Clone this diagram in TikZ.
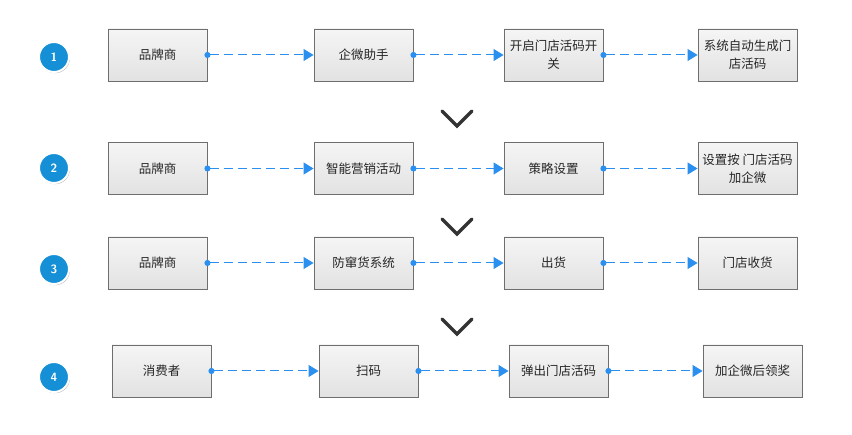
\documentclass[tikz,border=0pt]{standalone}
\usepackage{fontspec}
\setmainfont{Noto Sans CJK SC}
\usetikzlibrary{arrows.meta,shadows}
\definecolor{boxline}{HTML}{6E6E6E}
\definecolor{boxtop}{HTML}{F5F5F5}
\definecolor{boxbot}{HTML}{E2E2E2}
\definecolor{flow}{HTML}{2A8FEF}
\definecolor{badge}{HTML}{1590D6}
\definecolor{chev}{HTML}{333333}
\tikzset{
  stepbox/.style={draw=boxline, line width=0.9pt, top color=boxtop, bottom color=boxbot,
    minimum width=99pt, minimum height=52pt, inner sep=1pt, align=center,
    font=\fontsize{12.5}{18}\selectfont, text=black!85},
  badgenode/.style={circle, fill=badge, draw=white, line width=2pt, minimum size=30pt,
    text=white, font=\sffamily\bfseries\fontsize{12}{14}\selectfont,
    drop shadow={shadow xshift=1pt, shadow yshift=-1.2pt, opacity=0.45, fill=black!60}},
  flowline/.style={draw=flow, line width=1pt, dash pattern=on 9pt off 5pt,
    {Circle[length=6pt,width=6pt]}-{Triangle[length=10pt,width=12pt]}, shorten <=-3pt},
  chevline/.style={draw=chev, line width=3.2pt, line cap=round, line join=miter}
}
\begin{document}
\begin{tikzpicture}[x=1pt,y=-1pt]
\useasboundingbox (0,0) rectangle (852,435);
% row 1
\node[badgenode] (c1) at (54,57) {1};
\node[stepbox] (a1) at (157.5,55) {品牌商};
\node[stepbox] (a2) at (363.5,55) {企微助手};
\node[stepbox] (a3) at (553.5,55) {开启门店活码开\\关};
\node[stepbox] (a4) at (747.5,55) {系统自动生成门\\店活码};
\draw[flowline] (a1) -- (a2);
\draw[flowline] (a2) -- (a3);
\draw[flowline] (a3) -- (a4);
% chevron 1
\coordinate (v1l) at (442,111);
\coordinate (v1m) at (457,126);
\coordinate (v1r) at (472,111);
\draw[chevline] (v1l) -- (v1m) -- (v1r);
% row 2
\node[badgenode] (c2) at (54,168) {2};
\node[stepbox] (b1) at (157.5,168.5) {品牌商};
\node[stepbox] (b2) at (363.5,168.5) {智能营销活动};
\node[stepbox] (b3) at (553.5,168.5) {策略设置};
\node[stepbox] (b4) at (747.5,168.5) {设置按 门店活码\\加企微};
\draw[flowline] (b1) -- (b2);
\draw[flowline] (b2) -- (b3);
\draw[flowline] (b3) -- (b4);
% chevron 2
\coordinate (v2l) at (442,219);
\coordinate (v2m) at (457,234);
\coordinate (v2r) at (472,219);
\draw[chevline] (v2l) -- (v2m) -- (v2r);
% row 3
\node[badgenode] (c3) at (54,269) {3};
\node[stepbox] (d1) at (157.5,263) {品牌商};
\node[stepbox] (d2) at (363.5,263) {防窜货系统};
\node[stepbox] (d3) at (553.5,263) {出货};
\node[stepbox] (d4) at (747.5,263) {门店收货};
\draw[flowline] (d1) -- (d2);
\draw[flowline] (d2) -- (d3);
\draw[flowline] (d3) -- (d4);
% chevron 3
\coordinate (v3l) at (442,319);
\coordinate (v3m) at (457,334);
\coordinate (v3r) at (472,319);
\draw[chevline] (v3l) -- (v3m) -- (v3r);
% row 4
\node[badgenode] (c4) at (54,377) {4};
\node[stepbox] (e1) at (161.5,371) {消费者};
\node[stepbox] (e2) at (368.5,371) {扫码};
\node[stepbox] (e3) at (558.5,371) {弹出门店活码};
\node[stepbox] (e4) at (752.5,371) {加企微后领奖};
\draw[flowline] (e1) -- (e2);
\draw[flowline] (e2) -- (e3);
\draw[flowline] (e3) -- (e4);
\end{tikzpicture}
\end{document}
